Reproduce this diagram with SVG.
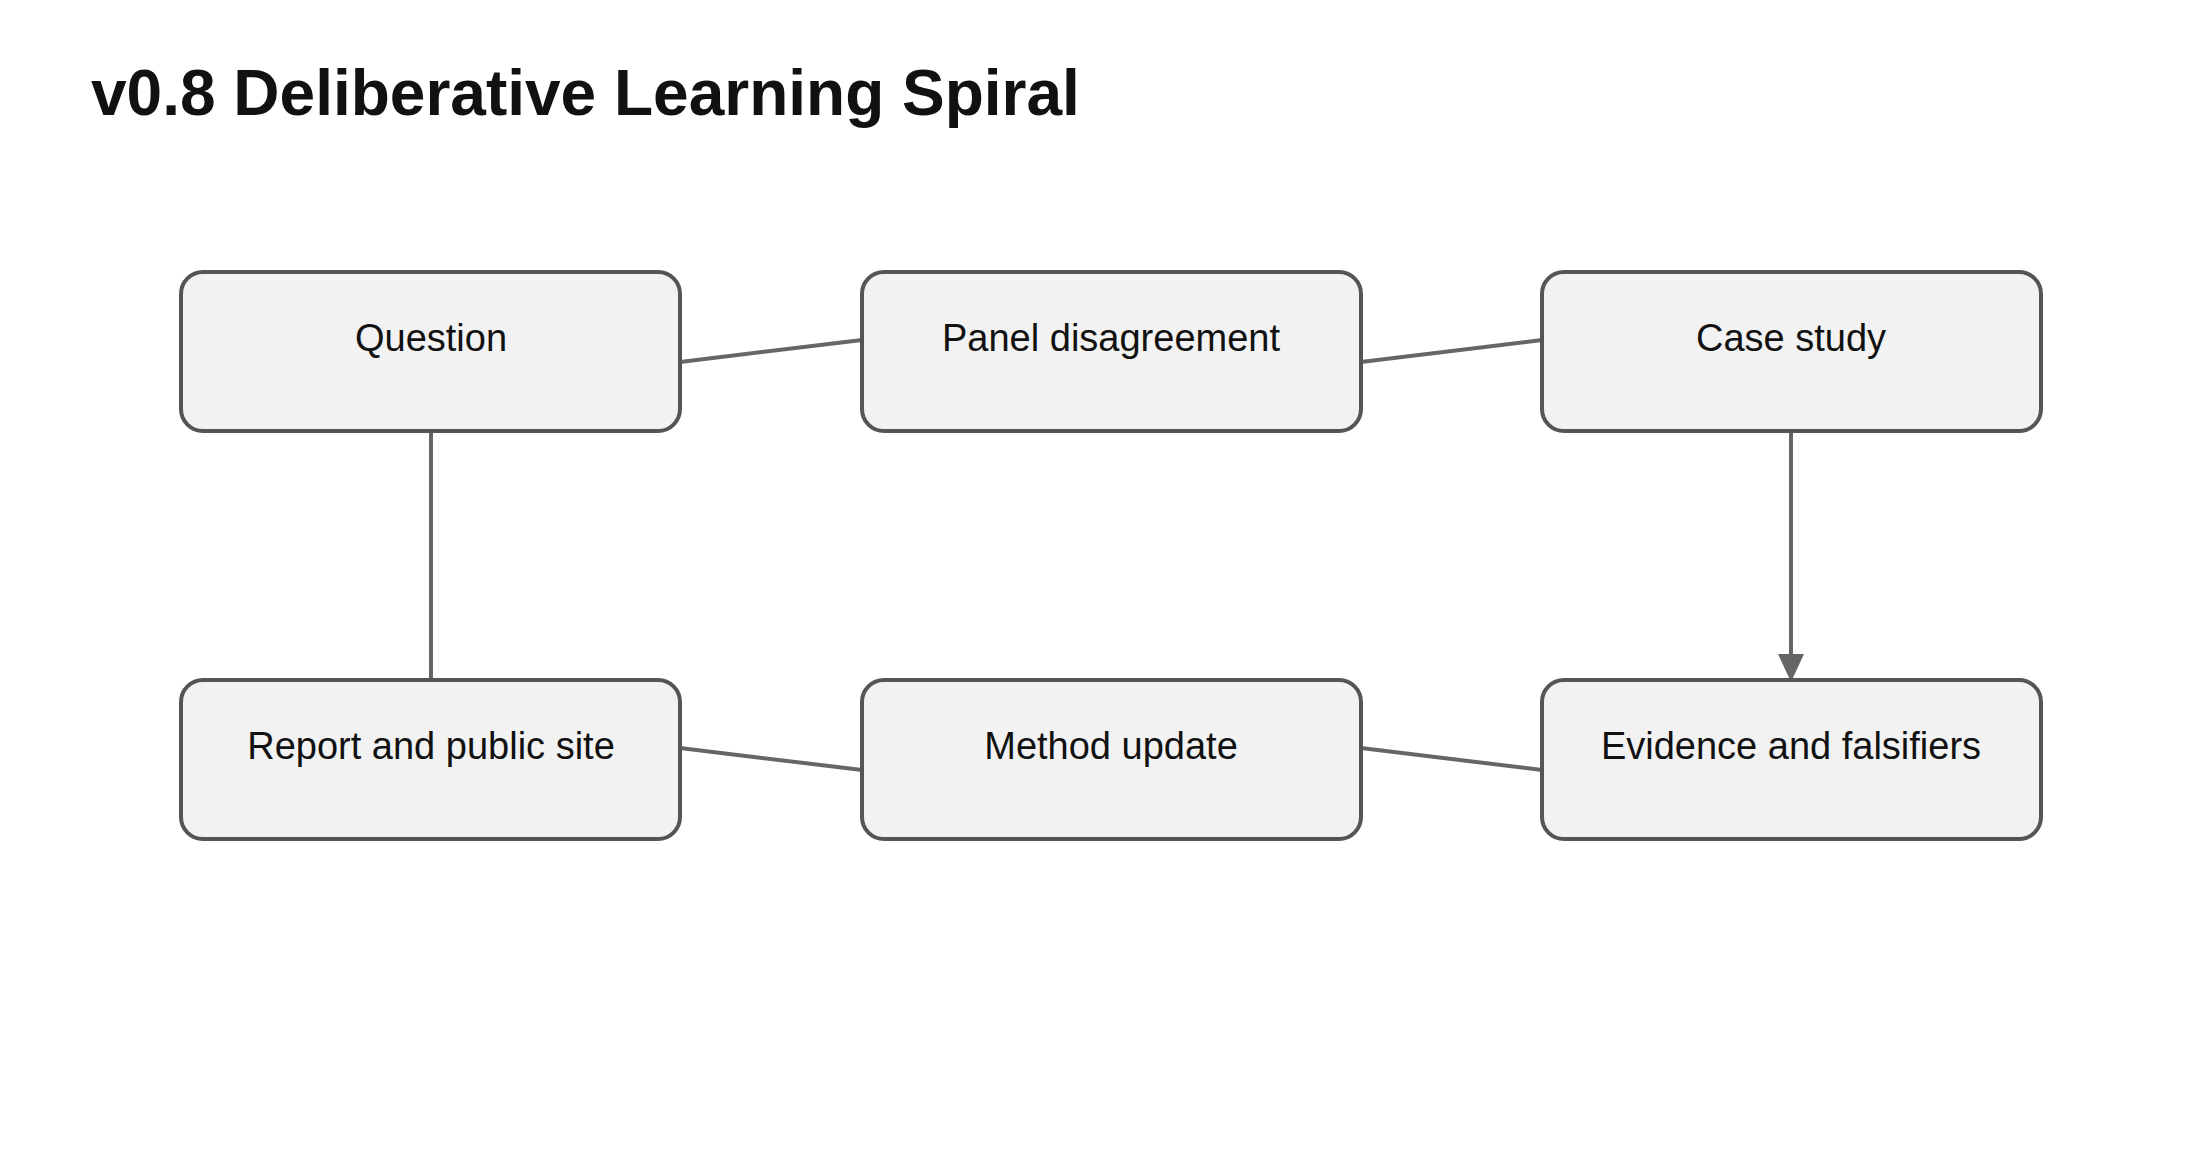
<svg xmlns="http://www.w3.org/2000/svg" width="2200" height="1167" viewBox="0 0 2200 1167">
<style>
.box{fill:#f2f2f2;stroke:#555;stroke-width:4}
.lbl{font-family:"Liberation Sans",Arial,sans-serif;font-size:38px;fill:#111;text-anchor:middle}
.edge{stroke:#666;stroke-width:4;fill:none}
</style>
<defs><marker id="arr" markerUnits="userSpaceOnUse" markerWidth="28" markerHeight="42" refX="26" refY="13" orient="auto" viewBox="0 0 28 26"><path d="M0,0 L28,13 L0,26 Z" fill="#666"/></marker></defs>
<rect width="2200" height="1167" fill="#fff"/>
<text x="91" y="115" font-family="Liberation Sans,Arial,sans-serif" font-size="64" font-weight="bold" fill="#111">v0.8 Deliberative Learning Spiral</text>
<g id="connectors">
<line class="edge" x1="680" y1="362" x2="862" y2="340"/>
<line class="edge" x1="1361" y1="362" x2="1542" y2="340"/>
<line class="edge" x1="431" y1="431" x2="431" y2="680"/>
<line class="edge" x1="1791" y1="431" x2="1791" y2="680" marker-end="url(#arr)"/>
<line class="edge" x1="680" y1="748" x2="862" y2="770"/>
<line class="edge" x1="1361" y1="748" x2="1542" y2="770"/>
</g>
<g id="n1"><rect class="box" x="181" y="272" width="499" height="159" rx="22"/><text class="lbl" x="431" y="351">Question</text></g>
<g id="n2"><rect class="box" x="862" y="272" width="499" height="159" rx="22"/><text class="lbl" x="1111" y="351">Panel disagreement</text></g>
<g id="n3"><rect class="box" x="1542" y="272" width="499" height="159" rx="22"/><text class="lbl" x="1791" y="351">Case study</text></g>
<g id="n4"><rect class="box" x="181" y="680" width="499" height="159" rx="22"/><text class="lbl" x="431" y="759">Report and public site</text></g>
<g id="n5"><rect class="box" x="862" y="680" width="499" height="159" rx="22"/><text class="lbl" x="1111" y="759">Method update</text></g>
<g id="n6"><rect class="box" x="1542" y="680" width="499" height="159" rx="22"/><text class="lbl" x="1791" y="759">Evidence and falsifiers</text></g>
</svg>
